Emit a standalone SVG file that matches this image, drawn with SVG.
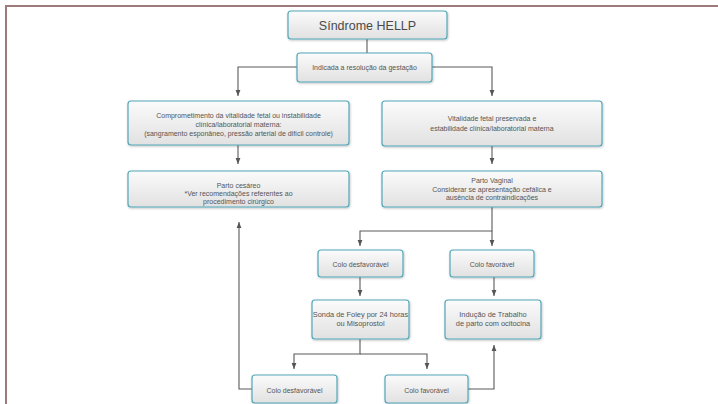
<svg xmlns="http://www.w3.org/2000/svg" width="718" height="404" viewBox="0 0 718 404">
<defs>
<linearGradient id="g" x1="0" y1="0" x2="0" y2="1">
<stop offset="0" stop-color="#fbfbfb"/>
<stop offset="1" stop-color="#e1e1e1"/>
</linearGradient>
<filter id="sh" x="-10%" y="-10%" width="130%" height="150%">
<feDropShadow dx="0.6" dy="1" stdDeviation="0.8" flood-color="#000" flood-opacity="0.25"/>
</filter>
<marker id="ar" markerUnits="userSpaceOnUse" markerWidth="6" markerHeight="6" viewBox="0 0 6 6" refX="6" refY="3" orient="auto">
<path d="M0,0.6 L6,3 L0,5.4 z" fill="#555"/>
</marker>
</defs>
<style>
.box{fill:url(#g);stroke:#52a7b9;stroke-width:1.2;filter:url(#sh)}
.t{font-family:"Liberation Sans",Arial,sans-serif;font-size:7px;fill:#555;text-anchor:middle}
.c{fill:none;stroke:#5a5a5a;stroke-width:1.1}
</style>
<rect width="718" height="404" fill="#fff"/>
<path d="M6,404 V6 H718" fill="none" stroke="#9e7b7b" stroke-width="2"/>

<g id="connectors">
<path class="c" d="M367,39 V53"/>
<path class="c" d="M297,67 H238 V96" marker-end="url(#ar)"/>
<path class="c" d="M432,67 H492 V96" marker-end="url(#ar)"/>
<path class="c" d="M238,145 V164" marker-end="url(#ar)"/>
<path class="c" d="M492,146 V164" marker-end="url(#ar)"/>
<path class="c" d="M492,207 V231 H360 V246" marker-end="url(#ar)"/>
<path class="c" d="M492,231 V246" marker-end="url(#ar)"/>
<path class="c" d="M360,277 V296" marker-end="url(#ar)"/>
<path class="c" d="M494,277 V296" marker-end="url(#ar)"/>
<path class="c" d="M360,339 V354 H294 V369" marker-end="url(#ar)"/>
<path class="c" d="M360,354 H427 V369" marker-end="url(#ar)"/>
<path class="c" d="M252,389 H239 V222" marker-end="url(#ar)"/>
<path class="c" d="M468,389 H494 V345" marker-end="url(#ar)"/>
</g>

<g id="n-hellp">
<rect class="box" x="288" y="11" width="159" height="28" rx="3"/>
<text class="t" x="367.5" y="30" style="font-size:12.5px;fill:#4a4a4a">Síndrome HELLP</text>
</g>
<g id="n-indicada">
<rect class="box" x="297" y="53" width="135" height="29" rx="3"/>
<text class="t" x="364.5" y="69.5">Indicada a resolução da gestação</text>
</g>
<g id="n-comprometimento">
<rect class="box" x="128" y="101" width="221" height="44" rx="3"/>
<text class="t" x="238.5" y="118">Comprometimento da vitalidade fetal ou instabilidade</text>
<text class="t" x="238.5" y="126.5">clínica/laboratorial materna:</text>
<text class="t" x="238.5" y="135.5">(sangramento esponâneo, pressão arterial de difícil controle)</text>
</g>
<g id="n-vitalidade">
<rect class="box" x="382" y="101" width="220" height="45" rx="3"/>
<text class="t" x="492" y="120.5">Vitalidade fetal preservada e</text>
<text class="t" x="492" y="130.5">estabilidade clínica/laboratorial materna</text>
</g>
<g id="n-cesareo">
<rect class="box" x="128" y="171" width="221" height="36" rx="3"/>
<text class="t" x="238.5" y="188">Parto cesáreo</text>
<text class="t" x="238.5" y="196">*Ver recomendações referentes ao</text>
<text class="t" x="238.5" y="204">procedimento cirúrgico</text>
</g>
<g id="n-vaginal">
<rect class="box" x="382" y="171" width="220" height="36" rx="3"/>
<text class="t" x="492" y="182.5">Parto Vaginal</text>
<text class="t" x="492" y="191.5">Considerar se apresentação cefálica e</text>
<text class="t" x="492" y="200">ausência de contraindicações</text>
</g>
<g id="n-colo-desf1">
<rect class="box" x="318" y="250" width="85" height="27" rx="3"/>
<text class="t" x="360.5" y="266.5">Colo desfavorável</text>
</g>
<g id="n-colo-fav1">
<rect class="box" x="450" y="250" width="84" height="27" rx="3"/>
<text class="t" x="492" y="266.5">Colo favorável</text>
</g>
<g id="n-sonda">
<rect class="box" x="312" y="300" width="97" height="39" rx="3"/>
<text class="t" x="360.5" y="317" style="font-size:7.4px">Sonda de Foley por 24 horas</text>
<text class="t" x="360.5" y="326" style="font-size:7.4px">ou Misoprostol</text>
</g>
<g id="n-inducao">
<rect class="box" x="445" y="300" width="96" height="39" rx="3"/>
<text class="t" x="493" y="317" style="font-size:7.4px">Indução de Trabalho</text>
<text class="t" x="493" y="326" style="font-size:7.4px">de parto com ocitocina</text>
</g>
<g id="n-colo-desf2">
<rect class="box" x="252" y="375" width="85" height="28" rx="3"/>
<text class="t" x="294.5" y="393">Colo desfavorável</text>
</g>
<g id="n-colo-fav2">
<rect class="box" x="385" y="375" width="83" height="28" rx="3"/>
<text class="t" x="426.5" y="393">Colo favorável</text>
</g>
</svg>
